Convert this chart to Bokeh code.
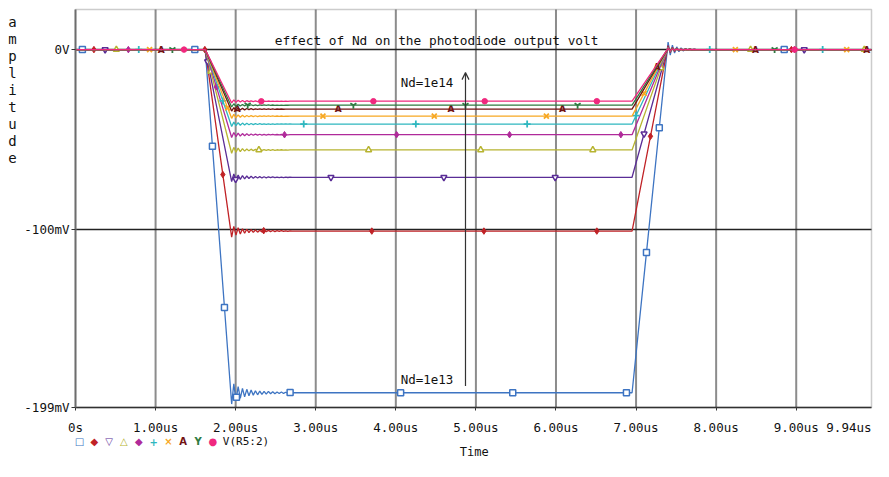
import numpy as np
from bokeh.plotting import figure
from bokeh.models import (FixedTicker, Label, Arrow, OpenHead, Range1d, LinearAxis, BoxAnnotation)
from bokeh.core.properties import value
from bokeh.embed import file_html
from bokeh.resources import INLINE

# ---------------- data ----------------
nd_values = ["1e13", "2e13", "3e13", "4e13", "5e13", "6e13", "7e13", "8e13", "9e13", "1e14"]
levels_mv = [-190.8, -100.9, -71.0, -55.8, -47.3, -41.4, -37.0, -33.1, -30.9, -28.7]

fall_start_us = 1.62
fall_end_us = 1.95
rise_start_us = 6.95
rise_end_us = 7.40
t_end_us = 9.94
y_top_mv = 22.3
y_bottom_mv = -199.0
ring_step_us = 0.027
# ringing after the edges, as fraction of the step (positive = overshoot)
fall_ring = [0.033, -0.026, 0.022, -0.018, 0.016, -0.013, 0.012, -0.010, 0.009, -0.008,
             0.007, -0.006, 0.006, -0.005, 0.005, -0.004, 0.004, -0.004, 0.003, -0.003,
             0.003, -0.002, 0.002, -0.002, 0.002, -0.0015, 0.0015, -0.001, 0.0]
rise_ring = [0.022, -0.016, 0.013, -0.010, 0.008, -0.006, 0.005, -0.004, 0.003, -0.002,
             0.002, -0.001, 0.001, 0.0]

# marker times (us) for each trace
mk_t_1 = [0.086, 1.49, 1.71, 1.86, 2.01, 2.68, 4.06, 5.46, 6.88, 7.13, 7.29, 8.85]
mk_t_2 = [0.23, 1.615, 1.84, 2.35, 3.70, 5.10, 6.51, 7.18, 8.94]
mk_t_3 = [0.37, 1.65, 2.00, 3.19, 4.60, 5.99, 7.10, 9.10]
mk_t_4 = [0.51, 1.69, 2.29, 3.66, 5.06, 6.46, 7.31, 8.43, 9.85]
mk_t_5 = [0.66, 1.76, 2.61, 4.01, 5.42, 6.81, 8.98]
mk_t_6 = [0.79, 1.84, 2.85, 4.25, 5.64, 7.00, 7.92, 9.33]
mk_t_7 = [0.925, 1.90, 3.09, 4.48, 5.88, 7.10, 8.24, 9.63]
mk_t_8 = [1.07, 2.02, 3.28, 4.69, 6.08, 7.26, 8.49, 9.88]
mk_t_9 = [1.21, 2.15, 3.47, 4.87, 6.27, 8.73]
mk_t_10 = [1.355, 2.32, 3.72, 5.11, 6.51, 8.98]
marker_times = [mk_t_1, mk_t_2, mk_t_3, mk_t_4, mk_t_5, mk_t_6, mk_t_7, mk_t_8, mk_t_9, mk_t_10]

x_ticks = [0, 1, 2, 3, 4, 5, 6, 7, 8, 9]
x_tick_labels = ["0s", "1.00us", "2.00us", "3.00us", "4.00us", "5.00us",
                 "6.00us", "7.00us", "8.00us", "9.00us"]
x_end_label = "9.94us"
y_ticks = [0, -100, -199]
y_tick_labels = ["0V", "-100mV", "-199mV"]
grid_x = [1, 2, 3, 4, 5, 6, 7, 8, 9]
grid_y = [0, -100]

title_text = "effect of Nd on the photodiode output volt"
y_label_text = "amplitude"
x_label_text = "Time"
legend_text = "V(R5:2)"

# ---------------- styles / layout ----------------
colors = ["#3d74c2", "#c02226", "#5a2d96", "#b7b431", "#b02a9a",
          "#2fb7bf", "#f7a823", "#721313", "#2f7b42", "#f0287e"]
marker_kinds = ["square", "diamond", "inverted_triangle", "triangle", "diamond",
                "cross", "x", "A", "y", "circle"]
legend_glyphs = ["□", "◆", "▽", "△", "◆", "+", "×", "A", "Y", "●"]
MONO = "DejaVu Sans Mono"
INK = "#111111"

CW, CH = 873, 461             # canvas
FL, FR, FT, FB = 75, 871, 9, 407   # plot-area edges on the canvas (px)
PXU = (FR - FL) / (t_end_us - 0.0)
PXM = (FB - FT) / (y_top_mv - y_bottom_mv)


def cx(px):  # canvas x px -> data
    return (px - FL) / PXU


def cy(py):  # canvas y px -> data
    return y_top_mv - (py - FT) / PXM


p = figure(width=CW, height=CH,
           x_range=Range1d(cx(0), cx(CW)), y_range=Range1d(cy(CH), cy(0)),
           output_backend="svg", toolbar_location=None,
           x_axis_location=None, y_axis_location=None,
           min_border_left=0, min_border_right=0, min_border_top=0, min_border_bottom=0)
p.background_fill_color = "white"
p.border_fill_color = "white"
p.outline_line_color = None
p.grid.visible = False

# grid lines of the plot area
p.segment(x0=grid_x, y0=[y_bottom_mv] * len(grid_x), x1=grid_x, y1=[y_top_mv] * len(grid_x),
          line_color="#8c8c8c", line_width=2)
p.segment(x0=[0.0] * len(grid_y), y0=grid_y, x1=[t_end_us] * len(grid_y), y1=grid_y,
          line_color="#222222", line_width=1.5)

# axes fixed at the plot-area edges
xaxis = LinearAxis(fixed_location=y_bottom_mv, bounds=(0, t_end_us),
                   ticker=FixedTicker(ticks=x_ticks),
                   major_label_overrides={k: v for k, v in zip(x_ticks, x_tick_labels)})
yaxis = LinearAxis(fixed_location=0.0, bounds=(y_bottom_mv, y_top_mv),
                   ticker=FixedTicker(ticks=y_ticks),
                   major_label_overrides={k: v for k, v in zip(y_ticks, y_tick_labels)})
for ax in (xaxis, yaxis):
    ax.major_label_text_font = MONO
    ax.major_label_text_font_size = "12.5px"
    ax.major_label_text_color = INK
    ax.minor_tick_line_color = None
    ax.major_tick_in = 0
    ax.major_tick_line_color = "#333333"
xaxis.major_tick_out = 3
xaxis.major_label_standoff = 9
xaxis.axis_line_color = "#222222"
xaxis.axis_line_width = 1.5
yaxis.major_tick_out = 4
yaxis.major_label_standoff = 2
yaxis.axis_line_color = "#777777"
yaxis.axis_line_width = 2
p.add_layout(xaxis, "below")
p.add_layout(yaxis, "left")

# traces
for i, lvl in enumerate(levels_mv):
    t = [0.0, fall_start_us]
    v = [0.0, 0.0]
    for k, r in enumerate(fall_ring):
        t.append(fall_end_us + k * ring_step_us)
        v.append(lvl * (1 + r))
    t.append(rise_start_us)
    v.append(lvl)
    for k, r in enumerate(rise_ring):
        t.append(rise_end_us + k * ring_step_us)
        v.append(-lvl * r)
    t.append(t_end_us)
    v.append(0.0)
    t = np.array(t)
    v = np.array(v)
    c = colors[i]
    p.line(t, v, line_color=c, line_width=1.3)

    mt = np.array(marker_times[i])
    mv = np.interp(mt, t, v)
    kind = marker_kinds[i]
    if kind == "A":
        p.text(x=mt, y=mv, text=["A"] * len(mt), text_color=c,
               text_font=value("DejaVu Sans"), text_font_size="9px", text_font_style="bold",
               text_align="center", text_baseline="middle")
    elif kind in ("square", "triangle", "inverted_triangle"):
        p.scatter(mt, mv, marker=kind, size=6, line_color=c, line_width=1.5, fill_color="white")
    elif kind in ("cross", "x", "y"):
        p.scatter(mt, mv, marker=kind, size=7, line_color=c, line_width=1.8)
    elif kind == "circle":
        p.scatter(mt, mv, marker=kind, size=5.5, line_color=c, fill_color=c)
    else:
        p.scatter(mt, mv, marker=kind, size=6.5, line_color=c, fill_color=c)

# plot-area border
p.add_layout(BoxAnnotation(left=0, right=t_end_us, bottom=y_bottom_mv, top=y_top_mv,
                           fill_alpha=0, line_color="#555555", line_width=1.5))

# arrow and in-plot annotations
p.add_layout(Arrow(end=OpenHead(size=7, line_color="#333333", line_width=1.2),
                   x_start=4.87, y_start=-187.0, x_end=4.87, y_end=-12.8,
                   line_color="#333333", line_width=1.2))
p.add_layout(Label(x=4.06, y=-18.3, text="Nd=" + nd_values[-1], text_font=MONO,
                   text_font_size="12.5px", text_baseline="middle", text_color=INK))
p.add_layout(Label(x=4.06, y=-183.7, text="Nd=" + nd_values[0], text_font=MONO,
                   text_font_size="12.5px", text_baseline="middle", text_color=INK))
p.add_layout(Label(x=4.51, y=5.3, text=title_text, text_font=MONO, text_font_size="12.8px",
                   text_align="center", text_baseline="middle", text_color=INK))

# last x tick label, kept inside the page
p.add_layout(Label(x=t_end_us, y=cy(427), text=x_end_label, text_font=MONO,
                   text_font_size="12.5px", text_align="right", text_baseline="middle",
                   text_color=INK))

# stacked y-axis title
for j, ch in enumerate(y_label_text):
    p.add_layout(Label(x=cx(12), y=15.2 - j * 9.42, text=ch, text_font=MONO,
                       text_font_size="14px", text_align="center", text_baseline="middle",
                       text_color=INK))

# legend row
for j, g in enumerate(legend_glyphs):
    p.add_layout(Label(x=0.05 + j * 0.185, y=cy(441), text=g, text_font="DejaVu Sans",
                       text_font_size="10px", text_align="center", text_baseline="middle",
                       text_color=colors[j],
                       text_font_style="bold" if g in ("A", "Y", "+", "×") else "normal"))
p.add_layout(Label(x=1.84, y=cy(441), text=legend_text, text_font=MONO, text_font_size="11px",
                   text_baseline="middle", text_color=INK))

# x axis title
p.add_layout(Label(x=4.98, y=cy(451), text=x_label_text, text_font=MONO, text_font_size="12px",
                   text_align="center", text_baseline="middle", text_color=INK))

open("out.html", "w").write(file_html(p, INLINE))
